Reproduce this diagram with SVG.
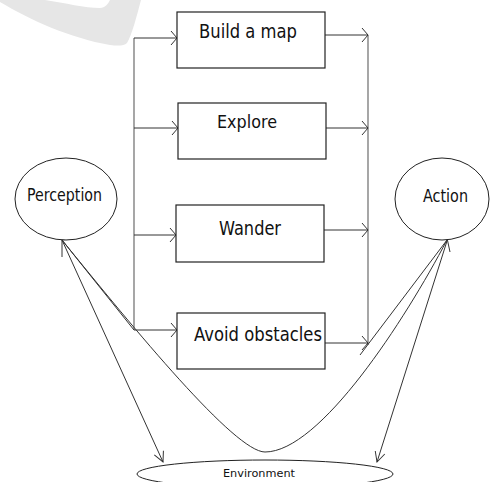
<svg xmlns="http://www.w3.org/2000/svg" width="490" height="482" viewBox="0 0 490 482">
<style>
.box{fill:#fff;stroke:#222;stroke-width:1.2}
.ell{fill:#fff;stroke:#222;stroke-width:1}
.ln{fill:none;stroke:#333;stroke-width:1}
.bus{fill:none;stroke:#777;stroke-width:1.3}
.lbl{font-family:"DejaVu Sans","Liberation Sans",sans-serif;fill:#111}
</style>
<defs>
<marker id="ah" markerUnits="userSpaceOnUse" viewBox="-8 -8 10 16" refX="0" refY="0" markerWidth="10" markerHeight="16" orient="auto">
<path d="M-6,-7 L0,0 L-6,7" fill="none" stroke="#333" stroke-width="1"/>
</marker>
<marker id="ahl" markerUnits="userSpaceOnUse" viewBox="-12 -7 14 14" refX="0" refY="0" markerWidth="14" markerHeight="14" orient="auto">
<path d="M-10,-5 L0,0 L-10,5" fill="none" stroke="#333" stroke-width="1"/>
</marker>
</defs>
<rect width="490" height="482" fill="#fff"/>
<path d="M0 0 L45 0 C65 3,85 8,100 8 C105 8,108 4,110 0 L141 0 C137 15,132 35,127 43 C124 46,118 46,110 45 C70 38,30 20,0 2 Z" fill="#e6e6e6"/>
<g id="connectors">
<line class="bus" x1="134" y1="38" x2="134" y2="330"/>
<line class="ln" x1="134" y1="38" x2="177" y2="38" marker-end="url(#ah)"/>
<line class="ln" x1="134" y1="128" x2="178" y2="128" marker-end="url(#ah)"/>
<line class="ln" x1="134" y1="235" x2="176" y2="235" marker-end="url(#ah)"/>
<line class="ln" x1="134" y1="330" x2="177" y2="330" marker-end="url(#ah)"/>
<line class="bus" x1="368" y1="35" x2="368" y2="345"/>
<line class="ln" x1="325" y1="35" x2="368" y2="35" marker-end="url(#ah)"/>
<line class="ln" x1="326" y1="128" x2="368" y2="128" marker-end="url(#ah)"/>
<line class="ln" x1="324" y1="230" x2="368" y2="230" marker-end="url(#ah)"/>
<line class="ln" x1="325" y1="343" x2="368" y2="343" marker-end="url(#ah)"/>
<line class="ln" x1="62" y1="240" x2="134" y2="330"/>
<line class="ln" x1="360" y1="355" x2="447" y2="240"/>
<path class="ln" d="M62 240 C135 330,235 452,265 452 C320 452,405 320,447 240"/>
<line class="ln" x1="62" y1="240" x2="163" y2="462" marker-end="url(#ahl)"/>
<line class="ln" x1="447" y1="241" x2="377" y2="462" marker-end="url(#ahl)"/>
<path class="ln" d="M62 257 L62 240 L77 238"/>
<path class="ln" d="M433 238 L447 238 L450 252"/>
</g>
<g id="build">
<rect class="box" x="177" y="12" width="148" height="56"/>
<text class="lbl" x="199" y="38" font-size="20" textLength="98" lengthAdjust="spacingAndGlyphs">Build a map</text>
</g>
<g id="explore">
<rect class="box" x="178" y="103" width="148" height="56"/>
<text class="lbl" x="217" y="128" font-size="18" textLength="60" lengthAdjust="spacingAndGlyphs">Explore</text>
</g>
<g id="wander">
<rect class="box" x="176" y="205" width="148" height="57"/>
<text class="lbl" x="219" y="235" font-size="19.5" textLength="62" lengthAdjust="spacingAndGlyphs">Wander</text>
</g>
<g id="avoid">
<rect class="box" x="177" y="313" width="148" height="56"/>
<text class="lbl" x="194" y="341" font-size="20" textLength="128" lengthAdjust="spacingAndGlyphs">Avoid obstacles</text>
</g>
<g id="perception">
<ellipse class="ell" cx="66" cy="199" rx="51" ry="41"/>
<text class="lbl" x="27" y="201" font-size="18" textLength="75" lengthAdjust="spacingAndGlyphs">Perception</text>
</g>
<g id="action">
<ellipse class="ell" cx="442" cy="199" rx="47" ry="41"/>
<text class="lbl" x="423" y="202" font-size="17.5" textLength="45" lengthAdjust="spacingAndGlyphs">Action</text>
</g>
<g id="environment">
<ellipse class="ell" cx="265" cy="474" rx="128" ry="14"/>
<text class="lbl" x="223" y="477" font-size="11" textLength="72" lengthAdjust="spacingAndGlyphs">Environment</text>
</g>
</svg>
